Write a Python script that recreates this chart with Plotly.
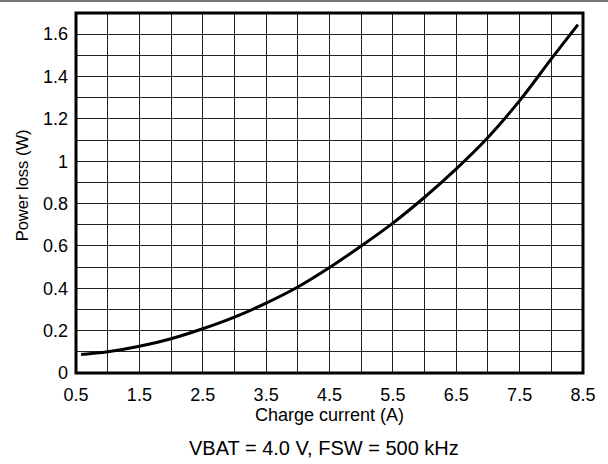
import plotly.graph_objects as go

# Data
charge_current_a = [0.58, 1.0, 1.5, 2.0, 2.5, 3.0, 3.5, 4.0, 4.5, 5.0, 5.5, 6.0, 6.5, 7.0, 7.5, 8.0, 8.42]
power_loss_w = [0.087, 0.100, 0.126, 0.162, 0.209, 0.264, 0.330, 0.406, 0.498, 0.600, 0.708, 0.830, 0.964, 1.112, 1.286, 1.483, 1.645]

x_tick_vals = [0.5, 1.5, 2.5, 3.5, 4.5, 5.5, 6.5, 7.5, 8.5]
x_tick_text = ["0.5", "1.5", "2.5", "3.5", "4.5", "5.5", "6.5", "7.5", "8.5"]
x_minor_vals = [1.0, 2.0, 3.0, 4.0, 5.0, 6.0, 7.0, 8.0]
y_tick_vals = [0, 0.2, 0.4, 0.6, 0.8, 1.0, 1.2, 1.4, 1.6]
y_tick_text = ["0", "0.2", "0.4", "0.6", "0.8", "1", "1.2", "1.4", "1.6"]
y_minor_vals = [0.1, 0.3, 0.5, 0.7, 0.9, 1.1, 1.3, 1.5]

x_title = "Charge current (A)"
y_title = "Power loss (W)"
condition_text = "VBAT = 4.0 V, FSW = 500 kHz"

FONT = "Liberation Sans, Arial, Helvetica, sans-serif"
GRID = "#222222"

fig = go.Figure()
fig.add_trace(go.Scatter(
    x=charge_current_a, y=power_loss_w, mode="lines",
    line=dict(color="black", width=3, shape="spline", smoothing=1.0),
    showlegend=False, hoverinfo="skip",
))

fig.update_layout(
    width=608, height=464,
    margin=dict(l=76, r=23, t=13, b=91),
    paper_bgcolor="white", plot_bgcolor="white",
    font=dict(family=FONT, color="black", size=18),
    xaxis=dict(
        range=[0.5, 8.5], tickvals=x_tick_vals, ticktext=x_tick_text,
        showgrid=True, gridcolor=GRID, gridwidth=1,
        minor=dict(tickvals=x_minor_vals, showgrid=True, gridcolor=GRID, gridwidth=1),
        zeroline=False, showline=False, ticks="",
        ticklabelstandoff=9,
        tickfont=dict(size=18, family=FONT),
        title=dict(text=x_title, font=dict(size=18, family=FONT), standoff=2),
    ),
    yaxis=dict(
        range=[0, 1.7], tickvals=y_tick_vals, ticktext=y_tick_text,
        showgrid=True, gridcolor=GRID, gridwidth=1,
        minor=dict(tickvals=y_minor_vals, showgrid=True, gridcolor=GRID, gridwidth=1),
        zeroline=False, showline=False, ticks="",
        ticklabelstandoff=7,
        tickfont=dict(size=18, family=FONT),
    ),
    shapes=[
        dict(type="rect", xref="paper", yref="paper", x0=0, x1=1, y0=0, y1=1,
             line=dict(color="black", width=3), layer="above"),
        dict(type="rect", xref="paper", yref="paper", x0=-0.2, x1=1.1, y0=1.0305, y1=1.0400,
             fillcolor="#777777", line=dict(width=0), layer="below"),
    ],
    annotations=[
        dict(text=y_title, xref="paper", yref="paper", x=-0.106, y=0.522,
             xanchor="center", yanchor="middle", textangle=-90, showarrow=False,
             font=dict(size=16.5, family=FONT, color="black")),
        dict(text=condition_text, xref="paper", yref="paper", x=0.489, y=-0.209,
             xanchor="center", yanchor="middle", showarrow=False,
             font=dict(size=20, family=FONT, color="black")),
    ],
)

fig.write_html(
    "out.html",
    config={"displayModeBar": False},
    post_script="document.body.style.margin='0';document.body.style.padding='0';document.body.style.overflow='hidden';",
)
